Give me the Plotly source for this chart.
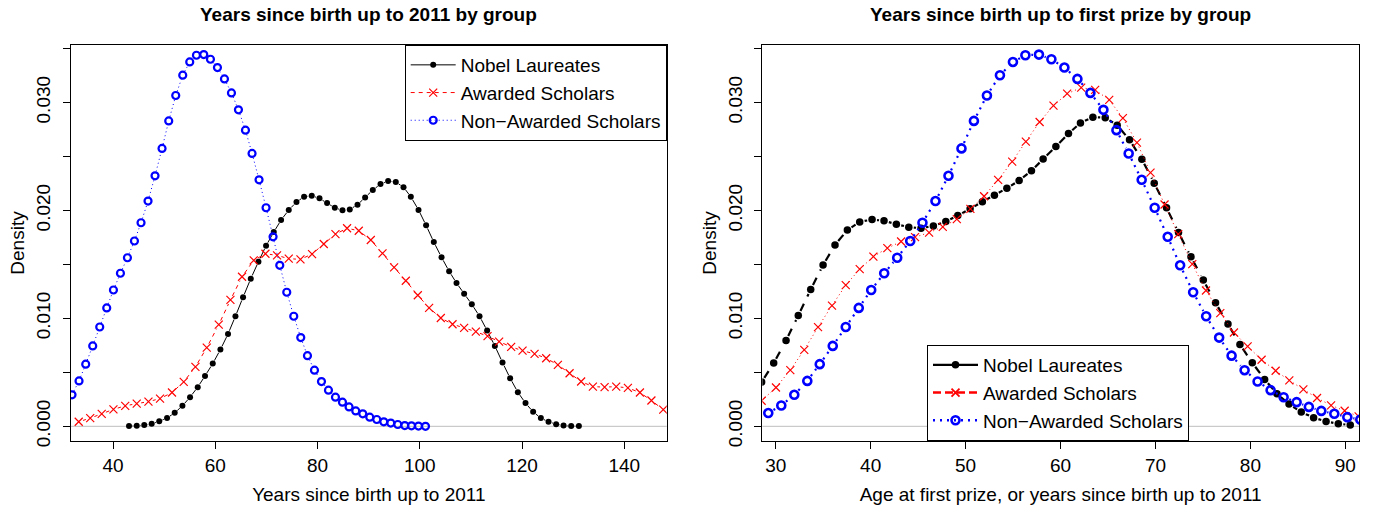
import math
import plotly.graph_objects as go

# ---------------- data ----------------
# Left panel: years since birth up to 2011
nobel_age_x = [43.11, 44.62, 46.09, 47.55, 49.02, 50.55, 52.05, 53.56, 55.05, 56.55,
               57.98, 59.49, 60.99, 62.48, 63.93, 65.42, 66.93, 68.43, 69.92, 71.43,
               72.86, 74.36, 75.87, 77.36, 78.86, 80.37, 81.86, 83.37, 84.87, 86.30,
               87.81, 89.30, 90.80, 92.31, 93.80, 95.30, 96.81, 98.24, 99.75, 101.23,
               102.74, 104.25, 105.74, 107.18, 108.67, 110.17, 111.68, 113.17, 114.68, 116.18,
               117.67, 119.18, 120.68, 122.17, 123.68, 125.18, 126.67, 128.12, 129.61, 131.12]
nobel_age_y = [0.00002, 0.00005, 0.00012, 0.00023, 0.00046, 0.00077, 0.00125, 0.00190, 0.00270, 0.00363,
               0.00467, 0.00581, 0.00711, 0.00856, 0.01020, 0.01196, 0.01368, 0.01525, 0.01673, 0.01800,
               0.01911, 0.02004, 0.02078, 0.02127, 0.02136, 0.02112, 0.02068, 0.02025, 0.02001, 0.02010,
               0.02053, 0.02121, 0.02189, 0.02244, 0.02272, 0.02263, 0.02216, 0.02127, 0.02005, 0.01862,
               0.01707, 0.01566, 0.01436, 0.01328, 0.01229, 0.01131, 0.01020, 0.00887, 0.00745, 0.00591,
               0.00446, 0.00316, 0.00215, 0.00134, 0.00076, 0.00042, 0.00020, 0.00007, 0.00002, 0.00002]

awarded_age_x = [33.27, 35.52, 37.77, 40.06, 42.37, 44.62, 46.91, 49.18, 51.52, 53.81,
                 56.10, 58.32, 60.67, 62.95, 65.22, 67.51, 69.80, 72.07, 74.36, 76.65,
                 78.92, 81.21, 83.50, 85.77, 88.06, 90.41, 92.70, 94.97, 97.26, 99.61,
                 101.82, 104.11, 106.40, 108.67, 110.96, 113.25, 115.52, 117.87, 120.10, 122.45,
                 124.72, 127.01, 129.30, 131.56, 133.86, 136.15, 138.42, 140.71, 143.06, 145.31,
                 147.62]
awarded_age_y = [0.00042, 0.00076, 0.00116, 0.00157, 0.00190, 0.00210, 0.00229, 0.00257, 0.00313, 0.00412,
                 0.00551, 0.00729, 0.00942, 0.01171, 0.01386, 0.01538, 0.01599, 0.01584, 0.01553, 0.01547,
                 0.01596, 0.01689, 0.01781, 0.01835, 0.01812, 0.01726, 0.01603, 0.01473, 0.01349, 0.01214,
                 0.01097, 0.01004, 0.00946, 0.00912, 0.00877, 0.00835, 0.00785, 0.00736, 0.00701, 0.00671,
                 0.00631, 0.00569, 0.00492, 0.00415, 0.00368, 0.00363, 0.00368, 0.00356, 0.00313, 0.00239,
                 0.00155]

# Non-awarded scholars (same curve in both panels)
nonaward_x = [29.22, 30.59,
              31.96, 33.33, 34.64, 36.01, 37.38, 38.75, 40.06, 41.43, 42.80, 44.17,
              45.46, 46.83, 48.20, 49.57, 50.88, 52.25, 53.62, 54.99, 56.30, 57.73,
              59.04, 60.41, 61.78, 63.15, 64.52, 65.89, 67.18, 68.55, 69.92, 71.29,
              72.60, 73.97, 75.34, 76.71, 78.02, 79.39, 80.76, 82.13, 83.50, 84.87,
              86.16, 87.47, 88.84, 90.21, 91.58, 92.95, 94.32, 95.69, 97.06, 98.37,
              99.74, 101.11]
nonaward_y = [0.00123, 0.00193,
              0.00292, 0.00421, 0.00576, 0.00745, 0.00920, 0.01097, 0.01263, 0.01418, 0.01562, 0.01717,
              0.01886, 0.02087, 0.02321, 0.02575, 0.02830, 0.03065, 0.03253, 0.03376, 0.03438, 0.03444,
              0.03401, 0.03324, 0.03219, 0.03089, 0.02932, 0.02744, 0.02528, 0.02284, 0.02025, 0.01756,
              0.01492, 0.01242, 0.01020, 0.00822, 0.00655, 0.00520, 0.00415, 0.00335, 0.00270, 0.00224,
              0.00180, 0.00143, 0.00116, 0.00085, 0.00063, 0.00042, 0.00030, 0.00017, 0.00007, 0.00005,
              0.00002, 0.0]

# Right panel: age at first prize
nobel_prize_x = [28.52, 29.79, 31.09, 32.38, 33.69, 34.99, 36.25, 37.55, 38.85, 40.15,
                 41.41, 42.71, 44.02, 45.31, 46.61, 47.92, 49.18, 50.48, 51.77, 53.04,
                 54.35, 55.64, 56.94, 58.17, 59.51, 60.84, 62.10, 63.41, 64.71, 65.97,
                 67.27, 68.57, 69.87, 71.17, 72.43, 73.74, 75.04, 76.33, 77.64, 78.90,
                 80.20, 81.50, 82.80, 84.07, 85.36, 86.66, 87.97, 89.26, 90.52]
nobel_prize_y = [0.00410, 0.00586, 0.00795, 0.01027, 0.01268, 0.01494, 0.01681, 0.01818, 0.01894, 0.01916,
                 0.01904, 0.01873, 0.01845, 0.01836, 0.01857, 0.01897, 0.01953, 0.02015, 0.02080, 0.02142,
                 0.02206, 0.02277, 0.02367, 0.02476, 0.02592, 0.02712, 0.02811, 0.02864, 0.02860, 0.02790,
                 0.02654, 0.02475, 0.02253, 0.02024, 0.01795, 0.01570, 0.01355, 0.01144, 0.00947, 0.00758,
                 0.00589, 0.00434, 0.00302, 0.00206, 0.00132, 0.00080, 0.00045, 0.00024, 0.00012]

awarded_prize_x = [28.52, 30.03, 31.54, 33.01, 34.46, 35.93, 37.38, 38.85, 40.29, 41.76,
                   43.21, 44.68, 46.16, 47.60, 49.08, 50.51, 51.95, 53.43, 54.91, 56.35,
                   57.80, 59.26, 60.70, 62.18, 63.65, 65.13, 66.57, 68.05, 69.48, 70.96,
                   72.40, 73.88, 75.32, 76.83, 78.27, 79.71, 81.18, 82.66, 84.10, 85.58,
                   87.02, 88.50, 89.93, 91.40]
awarded_prize_y = [0.00237, 0.00360, 0.00521, 0.00709, 0.00919, 0.01119, 0.01308, 0.01456, 0.01573, 0.01651,
                   0.01712, 0.01753, 0.01795, 0.01848, 0.01919, 0.02015, 0.02132, 0.02283, 0.02453, 0.02638,
                   0.02820, 0.02971, 0.03082, 0.03138, 0.03117, 0.03024, 0.02855, 0.02629, 0.02351, 0.02055,
                   0.01781, 0.01503, 0.01258, 0.01049, 0.00869, 0.00740, 0.00617, 0.00515, 0.00425, 0.00342,
                   0.00262, 0.00194, 0.00144, 0.00092]

series_names = ["Nobel Laureates", "Awarded Scholars", "Non\u2212Awarded Scholars"]
titles = ["Years since birth up to 2011 by group", "Years since birth up to first prize by group"]
x_titles = ["Years since birth up to 2011", "Age at first prize, or years since birth up to 2011"]
y_title = "Density"

left_xticks = [40, 60, 80, 100, 120, 140]
right_xticks = [30, 40, 50, 60, 70, 80, 90]
y_tickvals = [0.000, 0.005, 0.010, 0.015, 0.020, 0.025, 0.030, 0.035]
y_ticktext = ["0.000", "", "0.010", "", "0.020", "", "0.030", ""]

# ---------------- layout geometry ----------------
FONT = "Liberation Sans, Arial, Helvetica, sans-serif"
FS = 19
W, H = 1373, 510
ML, MR, MT, MB = 71, 14, 45, 69
PW = W - ML - MR
PH = H - MT - MB
left_dom = [0.0, (666.7 - ML) / PW]
right_dom = [(762.3 - ML) / PW, 1.0]
left_xrange = [31.76, 148.3]
right_xrange = [28.59, 91.44]
yrange = [-0.00136, 0.03533]


def gapped(xs, ys, xr, dom, gap):
    """Segments between consecutive points, shortened at both ends (R type='b')."""
    sx = (dom[1] - dom[0]) * PW / (xr[1] - xr[0])
    sy = PH / (yrange[1] - yrange[0])
    gx, gy = [], []
    for i in range(len(xs) - 1):
        dxv = xs[i + 1] - xs[i]
        dyv = ys[i + 1] - ys[i]
        L = math.hypot(dxv * sx, dyv * sy)
        if L <= 2 * gap + 0.5:
            continue
        f = gap / L
        gx += [xs[i] + f * dxv, xs[i + 1] - f * dxv, None]
        gy += [ys[i] + f * dyv, ys[i + 1] - f * dyv, None]
    return gx, gy


fig = go.Figure()

styles = [
    # (panel, x, y, name index, color, line width, dash, marker, gap, legend line)
    ("L", nobel_age_x, nobel_age_y, 0, "black", 1, "solid",
     dict(symbol="circle", size=6, color="black"), 3.5, (1, "solid")),
    ("L", awarded_age_x, awarded_age_y, 1, "red", 1, "4px,4px",
     dict(symbol="x-thin", size=8, color="red", line=dict(color="red", width=1.2)), 4.5, (1, "4px,4px")),
    ("L", nonaward_x, nonaward_y, 2, "blue", 1, "1px,3px",
     dict(symbol="circle-open", size=7, color="blue", line=dict(width=2.2)), 4.5, (1, "1px,3px")),
    ("R", nobel_prize_x, nobel_prize_y, 0, "black", 2.2, "8px,8px",
     dict(symbol="circle", size=7.5, color="black"), 5.0, (2.4, "solid")),
    ("R", awarded_prize_x, awarded_prize_y, 1, "red", 1, "1px,3px",
     dict(symbol="x-thin", size=8, color="red", line=dict(color="red", width=1.8)), 4.5, (2.4, "8px,4px")),
    ("R", nonaward_x, nonaward_y, 2, "blue", 2.2, "2px,5px",
     dict(symbol="circle-open", size=8, color="blue", line=dict(width=2.6)), 6.0, (2.4, "2px,5px")),
]

for panel, xs, ys, ni, col, lw, dash, mk, gap, leg in styles:
    if panel == "L":
        xa, ya, lg, xr, dom = "x", "y", "legend", left_xrange, left_dom
    else:
        xa, ya, lg, xr, dom = "x2", "y2", "legend2", right_xrange, right_dom
    gx, gy = gapped(xs, ys, xr, dom, gap)
    # connecting segments with gaps around the points
    fig.add_trace(go.Scatter(x=gx, y=gy, mode="lines", connectgaps=False,
                             line=dict(color=col, width=lw, dash=dash),
                             showlegend=False, hoverinfo="skip", xaxis=xa, yaxis=ya))
    # points
    pm = dict(mk)
    if panel == "R" and ni == 1:
        pm = dict(mk, line=dict(color="red", width=1.2))
    fig.add_trace(go.Scatter(x=xs, y=ys, mode="markers", marker=pm, name=series_names[ni],
                             showlegend=False, xaxis=xa, yaxis=ya))
    # legend entry (line + symbol, no data drawn)
    fig.add_trace(go.Scatter(x=[None], y=[None], mode="lines+markers", name=series_names[ni],
                             line=dict(color=col, width=leg[0], dash=leg[1]), marker=mk,
                             legend=lg, showlegend=True, xaxis=xa, yaxis=ya))

axis_common = dict(
    showline=True, linecolor="black", linewidth=1, mirror=True,
    ticks="outside", ticklen=7, tickwidth=1, tickcolor="black",
    showgrid=False, zeroline=False, automargin=False,
    tickfont=dict(family=FONT, size=FS, color="black"),
)

fig.update_layout(
    width=W, height=H,
    margin=dict(l=ML, r=MR, t=MT, b=MB, autoexpand=False),
    paper_bgcolor="white", plot_bgcolor="white",
    font=dict(family=FONT, size=FS, color="black"),
    xaxis=dict(domain=left_dom, range=left_xrange, tickvals=left_xticks,
               ticklabelstandoff=0,
               title=dict(text=x_titles[0], font=dict(family=FONT, size=FS), standoff=12),
               anchor="y", **axis_common),
    yaxis=dict(domain=[0, 1], range=yrange, tickvals=y_tickvals, ticktext=y_ticktext,
               tickangle=-90, ticklabelstandoff=5,
               title=dict(text=y_title, font=dict(family=FONT, size=FS), standoff=3),
               anchor="x", **axis_common),
    xaxis2=dict(domain=right_dom, range=right_xrange, tickvals=right_xticks,
                ticklabelstandoff=0,
                title=dict(text=x_titles[1], font=dict(family=FONT, size=FS), standoff=12),
                anchor="y2", **axis_common),
    yaxis2=dict(domain=[0, 1], range=yrange, tickvals=y_tickvals, ticktext=y_ticktext,
                tickangle=-90, ticklabelstandoff=5,
                title=dict(text=y_title, font=dict(family=FONT, size=FS), standoff=3),
                anchor="x2", **axis_common),
    legend=dict(x=left_dom[1], y=1, xanchor="right", yanchor="top",
                bgcolor="white", bordercolor="black", borderwidth=1,
                font=dict(family=FONT, size=FS), itemwidth=45, tracegroupgap=0),
    legend2=dict(x=(927 - ML) / PW, y=0, xanchor="left", yanchor="bottom",
                 bgcolor="white", bordercolor="black", borderwidth=1,
                 font=dict(family=FONT, size=FS), itemwidth=45, tracegroupgap=0),
    showlegend=True,
)

# zero reference lines (abline h=0, gray)
for xr_, yr_ in (("x", "y"), ("x2", "y2")):
    fig.add_shape(type="line", xref=f"{xr_} domain", yref=yr_, x0=0, x1=1, y0=0, y1=0,
                  line=dict(color="#BEBEBE", width=1), layer="below")

# panel titles
for xr_, t in (("x", titles[0]), ("x2", titles[1])):
    fig.add_annotation(text=f"<b>{t}</b>", xref=f"{xr_} domain", x=0.5, yref="paper",
                       y=1 + 31 / PH, yanchor="middle", xanchor="center",
                       showarrow=False, font=dict(family=FONT, size=FS, color="black"))

# remove the default 8px page margin so the figure fills the window exactly
fig.write_html("out.html", config={"displayModeBar": False},
               post_script="document.body.style.margin='0px';")
